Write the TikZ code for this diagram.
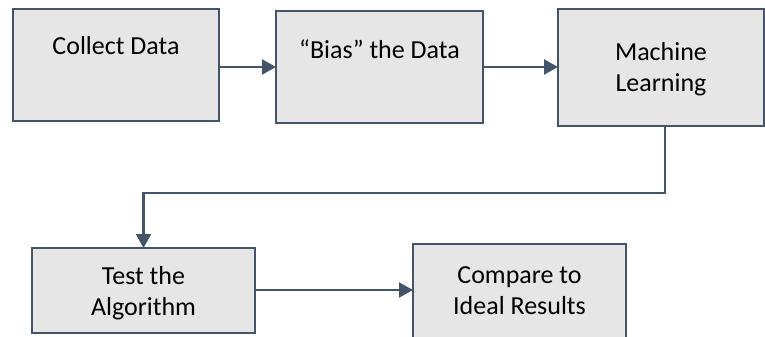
\documentclass[tikz,border=0pt]{standalone}
\usepackage{fontspec}
\setmainfont{Carlito}
\usetikzlibrary{arrows.meta,calc}
\definecolor{boxfill}{HTML}{E7E6E6}
\definecolor{boxline}{HTML}{44546A}
\begin{document}
\begin{tikzpicture}[x=1pt,y=1pt,
  box/.style={draw=boxline,fill=boxfill,line width=2pt,inner sep=0pt,outer sep=0pt},
  lbl/.style={font=\fontsize{26}{31.5}\selectfont,align=center,inner sep=0pt,anchor=north},
  conn/.style={draw=boxline,line width=2.2pt,-{Triangle[length=14pt,width=15pt]}}]
\useasboundingbox (0,0) rectangle (765,-337);
% boxes (pixel coords, y down)
\node[box,minimum width=206pt,minimum height=112pt] (b1) at (116,-65) {};
\node[box,minimum width=207pt,minimum height=112pt] (b2) at (379.5,-67) {};
\node[box,minimum width=206pt,minimum height=117pt] (b3) at (661,-67.5) {};
\node[box,minimum width=223pt,minimum height=85pt] (b4) at (143.5,-290.5) {};
\node[box,minimum width=213pt,minimum height=98pt] (b5) at (519.5,-293) {};
% labels
\node[lbl] (t1) at (116,-36) {Collect Data};
\node[lbl] (t2) at (379.5,-40) {“Bias” the Data};
\node[lbl] (t3) at (661,-42) {Machine\\Learning};
\node[lbl] (t4) at (143.5,-266) {Test the\\Algorithm};
\node[lbl] (t5) at (519.5,-266) {Compare to\\Ideal Results};
% connectors
\coordinate (k1) at (665,-193);
\coordinate (k2) at (143.5,-193);
\draw[conn] (b1.east |- 0,-67) -- (b2.west |- 0,-67);
\draw[conn] (b2.east |- 0,-67) -- (b3.west |- 0,-67);
\draw[conn] (b3.south -| k1) -- (k1) -- (k2) -- (b4.north);
\draw[conn] (b4.east |- 0,-290) -- (b5.west |- 0,-290);
\end{tikzpicture}
\end{document}
